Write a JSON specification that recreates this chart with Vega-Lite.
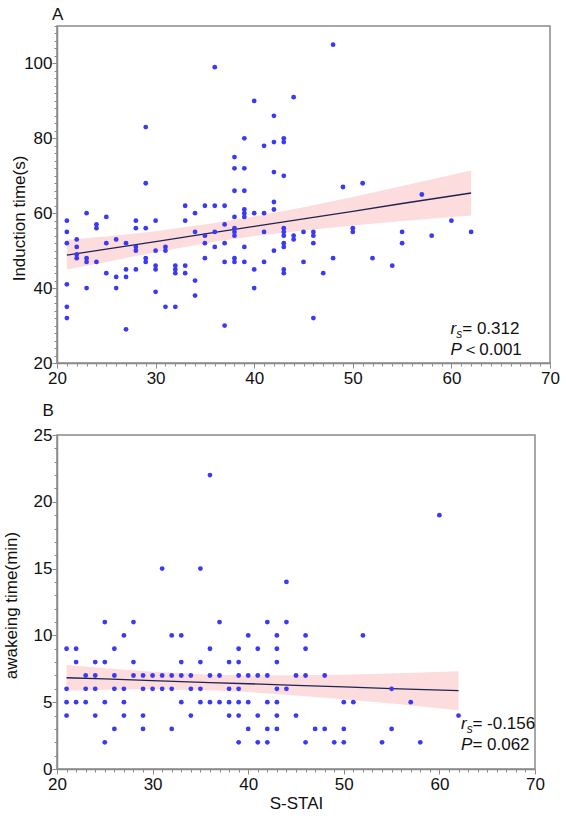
{
  "$schema": "https://vega.github.io/schema/vega-lite/v6.json",
  "background": "white",
  "padding": {"left": 1, "top": 4, "right": 0, "bottom": 0},
  "spacing": 72,
  "bounds": "flush",
  "config": {
    "font": "Liberation Sans",
    "view": {"stroke": "#8a8a8a", "strokeWidth": 1.5},
    "axis": {
      "grid": false, "domainColor": "#8a8a8a", "domainWidth": 1.5, "tickColor": "#8a8a8a", "tickWidth": 1,
      "labelFont": "Liberation Sans", "labelFontSize": 17, "labelColor": "#111111",
      "titleFont": "Liberation Sans", "titleFontSize": 17, "titleFontWeight": "normal", "titleColor": "#111111",
      "labelOverlap": false, "labelFlush": false, "labelBound": false
    }
  },
  "datasets": {
    "a": [
      {"x":21,"y":58},{"x":21,"y":55},{"x":21,"y":52},{"x":21,"y":41},{"x":21,"y":35},{"x":21,"y":32},
      {"x":22,"y":53},{"x":22,"y":51},{"x":22,"y":49},{"x":22,"y":48},
      {"x":23,"y":60},{"x":23,"y":48},{"x":23,"y":47},{"x":23,"y":40},
      {"x":24,"y":57},{"x":24,"y":56},{"x":24,"y":47},
      {"x":25,"y":59},{"x":25,"y":52},{"x":25,"y":44},
      {"x":26,"y":53},{"x":26,"y":43},{"x":26,"y":40},
      {"x":27,"y":52},{"x":27,"y":45},{"x":27,"y":43},{"x":27,"y":29},
      {"x":28,"y":58},{"x":28,"y":56},{"x":28,"y":51},{"x":28,"y":50},{"x":28,"y":45},
      {"x":29,"y":83},{"x":29,"y":68},{"x":29,"y":56},{"x":29,"y":48},{"x":29,"y":47},
      {"x":30,"y":58},{"x":30,"y":50},{"x":30,"y":46},{"x":30,"y":45},{"x":30,"y":39},
      {"x":31,"y":51},{"x":31,"y":50},{"x":31,"y":35},
      {"x":32,"y":46},{"x":32,"y":45},{"x":32,"y":44},{"x":32,"y":35},
      {"x":33,"y":62},{"x":33,"y":58},{"x":33,"y":46},{"x":33,"y":44},
      {"x":34,"y":60},{"x":34,"y":55},{"x":34,"y":42},{"x":34,"y":38},
      {"x":35,"y":62},{"x":35,"y":54},{"x":35,"y":52},{"x":35,"y":48},
      {"x":36,"y":99},{"x":36,"y":62},{"x":36,"y":55},{"x":36,"y":51},
      {"x":37,"y":62},{"x":37,"y":57},{"x":37,"y":52},{"x":37,"y":47},{"x":37,"y":30},
      {"x":38,"y":75},{"x":38,"y":72},{"x":38,"y":66},{"x":38,"y":59},{"x":38,"y":56},{"x":38,"y":55},{"x":38,"y":54},{"x":38,"y":48},{"x":38,"y":47},
      {"x":39,"y":80},{"x":39,"y":72},{"x":39,"y":66},{"x":39,"y":61},{"x":39,"y":60},{"x":39,"y":59},{"x":39,"y":51},{"x":39,"y":47},
      {"x":40,"y":90},{"x":40,"y":60},{"x":40,"y":45},{"x":40,"y":40},
      {"x":41,"y":78},{"x":41,"y":60},{"x":41,"y":55},{"x":41,"y":47},
      {"x":42,"y":86},{"x":42,"y":79},{"x":42,"y":71},{"x":42,"y":63},{"x":42,"y":61},{"x":42,"y":50},
      {"x":43,"y":80},{"x":43,"y":79},{"x":43,"y":70},{"x":43,"y":56},{"x":43,"y":55},{"x":43,"y":54},{"x":43,"y":52},{"x":43,"y":51},{"x":43,"y":45},{"x":43,"y":44},
      {"x":44,"y":91},{"x":44,"y":54},{"x":44,"y":53},
      {"x":45,"y":55},{"x":45,"y":47},
      {"x":46,"y":55},{"x":46,"y":54},{"x":46,"y":52},{"x":46,"y":32},
      {"x":47,"y":44},
      {"x":48,"y":105},{"x":48,"y":48},
      {"x":49,"y":67},
      {"x":50,"y":56},{"x":50,"y":55},
      {"x":51,"y":68},
      {"x":52,"y":48},
      {"x":54,"y":46},
      {"x":55,"y":55},{"x":55,"y":52},
      {"x":57,"y":65},
      {"x":58,"y":54},
      {"x":60,"y":58},
      {"x":62,"y":55}
    ],
    "b": [
      {"x":36,"y":22},{"x":60,"y":19},{"x":31,"y":15},{"x":35,"y":15},{"x":44,"y":14},
      {"x":25,"y":11},{"x":28,"y":11},{"x":37,"y":11},{"x":42,"y":11},{"x":44,"y":11},
      {"x":27,"y":10},{"x":32,"y":10},{"x":33,"y":10},{"x":40,"y":10},{"x":43,"y":10},{"x":46,"y":10},{"x":52,"y":10},
      {"x":21,"y":9},{"x":22,"y":9},{"x":26,"y":9},{"x":36,"y":9},{"x":39,"y":9},{"x":41,"y":9},{"x":43,"y":9},{"x":46,"y":9},
      {"x":22,"y":8},{"x":24,"y":8},{"x":25,"y":8},{"x":28,"y":8},{"x":33,"y":8},{"x":35,"y":8},{"x":38,"y":8},{"x":39,"y":8},{"x":43,"y":8},
      {"x":23,"y":7},{"x":24,"y":7},{"x":26,"y":7},{"x":28,"y":7},{"x":29,"y":7},{"x":30,"y":7},{"x":31,"y":7},{"x":32,"y":7},{"x":33,"y":7},{"x":34,"y":7},{"x":36,"y":7},{"x":37,"y":7},{"x":39,"y":7},{"x":40,"y":7},{"x":41,"y":7},{"x":42,"y":7},{"x":45,"y":7},{"x":46,"y":7},{"x":48,"y":7},
      {"x":21,"y":6},{"x":23,"y":6},{"x":24,"y":6},{"x":26,"y":6},{"x":27,"y":6},{"x":29,"y":6},{"x":30,"y":6},{"x":31,"y":6},{"x":32,"y":6},{"x":34,"y":6},{"x":35,"y":6},{"x":38,"y":6},{"x":39,"y":6},{"x":43,"y":6},{"x":44,"y":6},{"x":55,"y":6},
      {"x":21,"y":5},{"x":22,"y":5},{"x":23,"y":5},{"x":25,"y":5},{"x":27,"y":5},{"x":33,"y":5},{"x":35,"y":5},{"x":36,"y":5},{"x":37,"y":5},{"x":38,"y":5},{"x":39,"y":5},{"x":40,"y":5},{"x":42,"y":5},{"x":43,"y":5},{"x":50,"y":5},{"x":51,"y":5},{"x":57,"y":5},
      {"x":21,"y":4},{"x":24,"y":4},{"x":27,"y":4},{"x":29,"y":4},{"x":34,"y":4},{"x":38,"y":4},{"x":39,"y":4},{"x":41,"y":4},{"x":43,"y":4},{"x":45,"y":4},{"x":62,"y":4},
      {"x":26,"y":3},{"x":29,"y":3},{"x":32,"y":3},{"x":40,"y":3},{"x":42,"y":3},{"x":43,"y":3},{"x":47,"y":3},{"x":48,"y":3},{"x":50,"y":3},{"x":55,"y":3},
      {"x":25,"y":2},{"x":39,"y":2},{"x":41,"y":2},{"x":42,"y":2},{"x":46,"y":2},{"x":49,"y":2},{"x":50,"y":2},{"x":54,"y":2},{"x":58,"y":2}
    ],
    "fitA": [
      {"x":21,"fit":48.8,"lo":45.0,"hi":52.9},
      {"x":25,"fit":50.4,"lo":47.0,"hi":53.8},
      {"x":30,"fit":52.4,"lo":49.6,"hi":55.2},
      {"x":36,"fit":54.9,"lo":52.4,"hi":57.4},
      {"x":40,"fit":56.5,"lo":53.9,"hi":59.1},
      {"x":45,"fit":58.5,"lo":55.4,"hi":61.6},
      {"x":50,"fit":60.5,"lo":56.7,"hi":64.3},
      {"x":55,"fit":62.6,"lo":57.9,"hi":67.3},
      {"x":62,"fit":65.4,"lo":59.4,"hi":71.4}
    ],
    "fitB": [
      {"x":21,"fit":6.83,"lo":5.88,"hi":7.78},
      {"x":25,"fit":6.74,"lo":5.94,"hi":7.54},
      {"x":30,"fit":6.62,"lo":5.96,"hi":7.28},
      {"x":36,"fit":6.47,"lo":5.89,"hi":7.05},
      {"x":40,"fit":6.38,"lo":5.76,"hi":7.00},
      {"x":45,"fit":6.26,"lo":5.50,"hi":7.02},
      {"x":50,"fit":6.14,"lo":5.22,"hi":7.06},
      {"x":55,"fit":6.02,"lo":4.90,"hi":7.14},
      {"x":62,"fit":5.86,"lo":4.40,"hi":7.32}
    ]
  },
  "vconcat": [
    {
      "width": 493,
      "height": 337,
      "title": {"text": "A", "anchor": "start", "frame": "group", "fontSize": 17, "fontWeight": "normal", "font": "Liberation Sans", "color": "#111111", "dx": -5, "offset": 2},
      "resolve": {"axis": {"x": "independent", "y": "independent"}},
      "layer": [
        {
          "layer": [
            {
              "data": {"name": "fitA"},
              "mark": {"type": "area", "color": "#fcdcdc", "opacity": 1},
              "encoding": {
                "x": {"field": "x", "type": "quantitative", "scale": {"domain": [20, 70], "nice": false, "zero": false},
                  "axis": {"title": null, "labelOverlap": false, "labelFlush": false, "values": [20,30,40,50,60,70], "tickSize": 5, "labelPadding": 2}},
                "y": {"field": "lo", "type": "quantitative", "scale": {"domain": [20, 110], "nice": false, "zero": false},
                  "axis": {"title": "Induction time(s)", "titlePadding": -5, "titleY": 192, "labelOverlap": false, "values": [20,40,60,80,100], "tickSize": 5, "labelPadding": 0}},
                "y2": {"field": "hi"}
              }
            },
            {
              "data": {"name": "fitA"},
              "mark": {"type": "line", "color": "#1c2456", "strokeWidth": 1.3},
              "encoding": {"x": {"field": "x", "type": "quantitative"}, "y": {"field": "fit", "type": "quantitative"}}
            },
            {"data": {"values": [{}]}, "mark": {"type": "text", "text": "r", "fontStyle": "italic", "fontSize": 17, "align": "left", "baseline": "alphabetic", "color": "#111111"},
              "encoding": {"x": {"datum": 59.9}, "y": {"datum": 27.7}}},
            {"data": {"values": [{}]}, "mark": {"type": "text", "text": "s", "fontStyle": "italic", "fontSize": 12, "align": "left", "baseline": "alphabetic", "color": "#111111"},
              "encoding": {"x": {"datum": 60.5}, "y": {"datum": 26.6}}},
            {"data": {"values": [{}]}, "mark": {"type": "text", "text": "= 0.312", "fontSize": 17, "align": "left", "baseline": "alphabetic", "color": "#111111"},
              "encoding": {"x": {"datum": 61.1}, "y": {"datum": 27.7}}},
            {"data": {"values": [{}]}, "mark": {"type": "text", "text": "P", "fontStyle": "italic", "fontSize": 17, "align": "left", "baseline": "alphabetic", "color": "#111111"},
              "encoding": {"x": {"datum": 59.9}, "y": {"datum": 22.1}}},
            {"data": {"values": [{}]}, "mark": {"type": "text", "text": "＜0.001", "fontSize": 17, "align": "left", "baseline": "alphabetic", "color": "#111111"},
              "encoding": {"x": {"datum": 61.1}, "y": {"datum": 22.1}}}
          ]
        },
        {
          "data": {"name": "a"},
          "mark": {"type": "circle", "size": 23, "color": "#3a3af2", "opacity": 1},
          "encoding": {
            "x": {"field": "x", "type": "quantitative",
              "axis": {"orient": "bottom", "title": null, "labels": false, "domain": false, "tickSize": 3, "values": [20,21,22,23,24,25,26,27,28,29,30,31,32,33,34,35,36,37,38,39,40,41,42,43,44,45,46,47,48,49,50,51,52,53,54,55,56,57,58,59,60,61,62,63,64,65,66,67,68,69,70]}},
            "y": {"field": "y", "type": "quantitative",
              "axis": {"orient": "left", "title": null, "labels": false, "domain": false, "tickSize": 3, "values": [20,22,24,26,28,30,32,34,36,38,40,42,44,46,48,50,52,54,56,58,60,62,64,66,68,70,72,74,76,78,80,82,84,86,88,90,92,94,96,98,100,102,104,106,108,110]}}
          }
        }
      ]
    },
    {
      "width": 478,
      "height": 334,
      "title": {"text": "B", "anchor": "start", "frame": "group", "fontSize": 17, "fontWeight": "normal", "font": "Liberation Sans", "color": "#111111", "dx": -14.5, "offset": 6},
      "resolve": {"axis": {"x": "independent", "y": "independent"}},
      "layer": [
        {
          "layer": [
            {
              "data": {"name": "fitB"},
              "mark": {"type": "area", "color": "#fcdcdc", "opacity": 1},
              "encoding": {
                "x": {"field": "x", "type": "quantitative", "scale": {"domain": [20, 70], "nice": false, "zero": false},
                  "axis": {"title": "S-STAI", "titlePadding": 3, "labelOverlap": false, "labelFlush": false, "values": [20,30,40,50,60,70], "tickSize": 5, "labelPadding": 2}},
                "y": {"field": "lo", "type": "quantitative", "scale": {"domain": [0, 25], "nice": false, "zero": false},
                  "axis": {"title": "awakeing time(min)", "titlePadding": 12.5, "titleY": 170, "labelOverlap": false, "values": [0,5,10,15,20,25], "tickSize": 5, "labelPadding": 0}},
                "y2": {"field": "hi"}
              }
            },
            {
              "data": {"name": "fitB"},
              "mark": {"type": "line", "color": "#1c2456", "strokeWidth": 1.3},
              "encoding": {"x": {"field": "x", "type": "quantitative"}, "y": {"field": "fit", "type": "quantitative"}}
            },
            {"data": {"values": [{}]}, "mark": {"type": "text", "text": "r", "fontStyle": "italic", "fontSize": 17, "align": "left", "baseline": "alphabetic", "color": "#111111"},
              "encoding": {"x": {"datum": 62.27}, "y": {"datum": 2.97}}},
            {"data": {"values": [{}]}, "mark": {"type": "text", "text": "s", "fontStyle": "italic", "fontSize": 12, "align": "left", "baseline": "alphabetic", "color": "#111111"},
              "encoding": {"x": {"datum": 62.87}, "y": {"datum": 2.67}}},
            {"data": {"values": [{}]}, "mark": {"type": "text", "text": "= -0.156", "fontSize": 17, "align": "left", "baseline": "alphabetic", "color": "#111111"},
              "encoding": {"x": {"datum": 63.45}, "y": {"datum": 2.97}}},
            {"data": {"values": [{}]}, "mark": {"type": "text", "text": "P", "fontStyle": "italic", "fontSize": 17, "align": "left", "baseline": "alphabetic", "color": "#111111"},
              "encoding": {"x": {"datum": 62.27}, "y": {"datum": 1.4}}},
            {"data": {"values": [{}]}, "mark": {"type": "text", "text": "= 0.062", "fontSize": 17, "align": "left", "baseline": "alphabetic", "color": "#111111"},
              "encoding": {"x": {"datum": 63.45}, "y": {"datum": 1.4}}}
          ]
        },
        {
          "data": {"name": "b"},
          "mark": {"type": "circle", "size": 23, "color": "#3a3af2", "opacity": 1},
          "encoding": {
            "x": {"field": "x", "type": "quantitative",
              "axis": {"orient": "bottom", "title": null, "labels": false, "domain": false, "tickSize": 3, "values": [20,21,22,23,24,25,26,27,28,29,30,31,32,33,34,35,36,37,38,39,40,41,42,43,44,45,46,47,48,49,50,51,52,53,54,55,56,57,58,59,60,61,62,63,64,65,66,67,68,69,70]}},
            "y": {"field": "y", "type": "quantitative",
              "axis": {"orient": "left", "title": null, "labels": false, "domain": false, "tickSize": 3, "values": [0,1,2,3,4,5,6,7,8,9,10,11,12,13,14,15,16,17,18,19,20,21,22,23,24,25]}}
          }
        }
      ]
    }
  ]
}
